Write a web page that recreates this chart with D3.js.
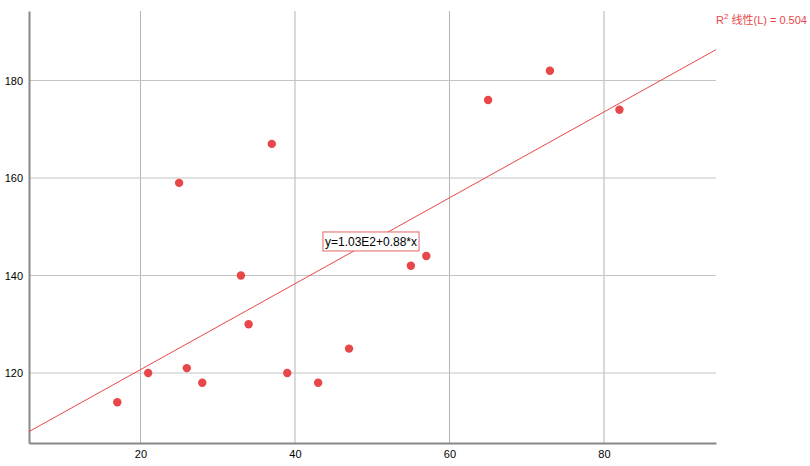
<!DOCTYPE html>
<html><head><meta charset="utf-8">
<script src="https://cdn.jsdelivr.net/npm/d3@7"></script>
<style>body{margin:0;background:#fff}svg{display:block}</style>
</head><body>
<script>
const xValues = [17,21,25,26,28,33,34,37,39,43,47,55,57,65,73,82];
const yValues = [114,120,159,121,118,140,130,167,120,118,125,142,144,176,182,174];
const xTicks = [20,40,60,80];
const yTicks = [120,140,160,180];
const fitLabel = "y=1.03E2+0.88*x";
const r2Value = "0.504";

const W = 810, H = 466;
const m = {left:29, right:94, top:11, bottom:23};
const svg = d3.select("body").append("svg").attr("width",W).attr("height",H);
const x = d3.scaleLinear().domain([5.57,94.5]).range([m.left, W-m.right]);
const y = d3.scaleLinear().domain([105.64,194.26]).range([H-m.bottom, m.top]);

// grid
svg.append("g").selectAll("line").data(xTicks).join("line")
  .attr("x1",d=>x(d)).attr("x2",d=>x(d)).attr("y1",m.top).attr("y2",H-m.bottom)
  .attr("stroke","#b4b4b4").attr("stroke-width",1);
svg.append("g").selectAll("line").data(yTicks).join("line")
  .attr("y1",d=>y(d)).attr("y2",d=>y(d)).attr("x1",m.left).attr("x2",W-m.right)
  .attr("stroke","#c4c4c4").attr("stroke-width",1);

// axes
const xAxis = svg.append("g").attr("transform",`translate(0,${H-m.bottom})`)
  .call(d3.axisBottom(x).tickValues(xTicks).tickSize(0).tickPadding(7));
const yAxis = svg.append("g").attr("transform",`translate(${m.left},0)`)
  .call(d3.axisLeft(y).tickValues(yTicks).tickSize(0).tickPadding(6));
[xAxis,yAxis].forEach(g=>{
  g.select(".domain").attr("stroke","#888").attr("stroke-width",2);
  g.selectAll("text").attr("font-family","Liberation Sans, Arial, sans-serif").attr("font-size",11).attr("fill","#000");
});

// regression
const n = xValues.length;
const mx = d3.mean(xValues), my = d3.mean(yValues);
let sxy=0, sxx=0;
for(let i=0;i<n;i++){sxy+=(xValues[i]-mx)*(yValues[i]-my); sxx+=(xValues[i]-mx)**2;}
const b = sxy/sxx, a = my - b*mx;
const [x0,x1] = x.domain();
svg.append("line").attr("x1",x(x0)).attr("y1",y(a+b*x0)).attr("x2",x(x1)).attr("y2",y(a+b*x1))
  .attr("stroke","#e8474a").attr("stroke-width",1);

// points
svg.append("g").selectAll("circle").data(xValues).join("circle")
  .attr("cx",d=>x(d)).attr("cy",(d,i)=>y(yValues[i])).attr("r",4.2).attr("fill","#e8474a");

// fit label
const lx = x.invert(371);
const ly = y(a+b*lx);
const lbl = svg.append("g");
const t = lbl.append("text").attr("x",371).attr("y",ly+4.5).attr("text-anchor","middle")
  .attr("font-family","Liberation Sans, Arial, sans-serif").attr("font-size",12).attr("fill","#000").text(fitLabel);
const bb = t.node().getBBox();
lbl.insert("rect","text").attr("x",bb.x-2).attr("y",ly-9.5).attr("width",bb.width+4).attr("height",19)
  .attr("fill","#fff").attr("stroke","#e06666").attr("stroke-width",1);

// R2 label
const r2 = svg.append("text").attr("x",716).attr("y",24)
  .attr("font-family","Liberation Sans, Noto Sans CJK SC, sans-serif").attr("font-size",11).attr("fill","#e8474a");
r2.append("tspan").text("R");
r2.append("tspan").attr("dy",-5).attr("font-size",8).text("2");
r2.append("tspan").attr("dy",5).text(" 线性(L) = " + r2Value);
</script>
</body></html>
